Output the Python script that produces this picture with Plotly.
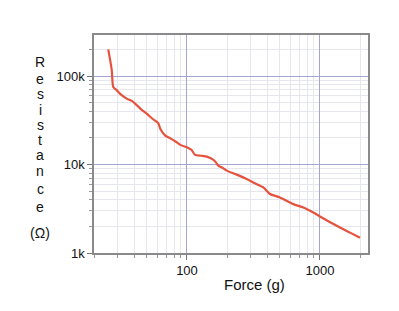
import plotly.graph_objects as go

force_g = [25.6, 27.2, 27.9, 29.5, 31.3, 35.2, 38.5, 40.7, 45, 49.8, 55, 60.8, 63, 68.4, 75, 83.7, 90, 99.5, 104, 108, 115, 128, 141, 158, 165, 172, 185, 199, 237, 281, 324, 375, 421, 500, 630, 750, 891, 1000, 1336, 1683, 2000]
resistance_ohm = [201000, 117000, 75600, 70000, 63500, 55800, 52500, 49000, 42500, 37700, 33000, 29500, 25500, 21400, 19800, 17900, 16600, 15700, 15200, 14700, 12900, 12600, 12300, 11300, 10600, 9750, 9200, 8550, 7700, 6870, 6140, 5520, 4650, 4250, 3570, 3270, 2870, 2590, 2030, 1700, 1490]

x_tickvals = [100, 1000]
x_ticktext = ["100", "1000"]
y_tickvals = [1000, 10000, 100000]
y_ticktext = ["1k", "10k", "100k"]
y_title_chars = ["R", "e", "s", "i", "s", "t", "a", "n", "c", "e", "(Ω)"]
y_title_pos = [62, 79, 94, 110, 125, 140, 155, 171, 189, 207, 233]

fig = go.Figure()
fig.add_trace(go.Scatter(x=force_g, y=resistance_ohm, mode="lines", line_shape="spline",
                         line=dict(color="#e5533d", width=2.2, smoothing=0.6), showlegend=False))

font = dict(family="Liberation Sans, Arial, sans-serif", size=13, color="#111")
axis_common = dict(
    type="log", showline=True, linecolor="#8a8a8a", linewidth=1.5, mirror=True,
    ticks="outside", ticklen=5, tickcolor="#777", showgrid=True,
    gridcolor="#a5a5cf", gridwidth=1, zeroline=False,
    minor=dict(ticks="outside", ticklen=3, tickcolor="#999", showgrid=True,
               gridcolor="#e6e6ee", gridwidth=1, dtick="D1"),
    tickfont=font,
)
fig.update_xaxes(range=[1.301, 3.361], tickvals=x_tickvals, ticktext=x_ticktext, **axis_common)
fig.update_yaxes(range=[3.0, 5.466], tickvals=y_tickvals, ticktext=y_ticktext, **axis_common)

pw, ph = 399 - 94 - 31, 311 - 35 - 58
for ch, py in zip(y_title_chars, y_title_pos):
    fig.add_annotation(text=ch, x=(40 - 94) / pw, y=(311 - py - 58) / ph, xref="paper", yref="paper",
                       showarrow=False, font=dict(family="Liberation Sans, Arial, sans-serif", size=14, color="#111"),
                       xanchor="center", yanchor="middle")

fig.add_annotation(text="Force (g)", x=(254 - 94) / pw, y=(311 - 284 - 58) / ph, xref="paper", yref="paper",
                   showarrow=False,
                   font=dict(family="Liberation Sans, Arial, sans-serif", size=15, color="#111"),
                   xanchor="center", yanchor="middle")

fig.update_layout(width=399, height=311, margin=dict(l=94, r=31, t=35, b=58),
                  plot_bgcolor="white", paper_bgcolor="white")
fig.write_html("out.html")
